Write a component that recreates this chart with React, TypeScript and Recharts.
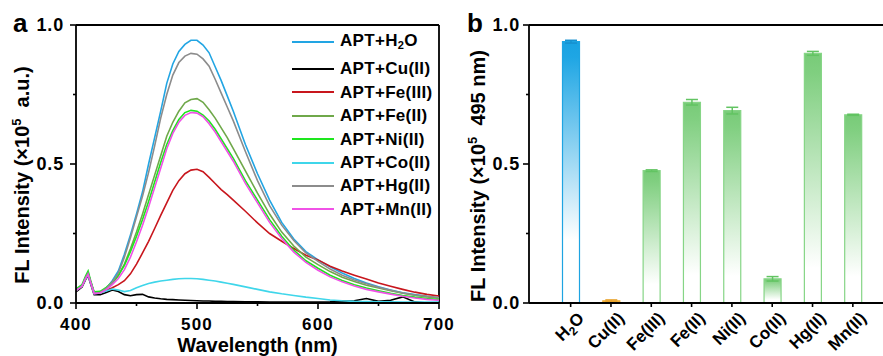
import React from 'react';
import {
  LineChart,
  Line,
  XAxis,
  YAxis,
  Legend,
  ReferenceLine,
  BarChart,
  Bar,
  Cell,
  ErrorBar,
} from 'recharts';

const FONT = '"Liberation Sans", Arial, Helvetica, sans-serif';

// ---------- Panel a: emission spectra ----------
const wavelengths = [
  400, 405, 408, 410, 412, 415, 420, 425, 430, 435, 440, 445, 450, 455, 460, 465, 470, 475, 480, 485,
  490, 495, 500, 505, 510, 515, 520, 525, 530, 540, 550, 560, 570, 580, 590, 600, 610, 620, 630, 640,
  650, 660, 670, 680, 690, 700,
];

const h2oSeries = [
  0.045, 0.062, 0.092, 0.108, 0.078, 0.035, 0.038, 0.052, 0.08, 0.115, 0.175, 0.245, 0.32, 0.4, 0.5, 0.595, 0.69, 0.79, 0.86, 0.905,
  0.93, 0.945, 0.945, 0.928, 0.9, 0.85, 0.8, 0.745, 0.69, 0.57, 0.465, 0.37, 0.29, 0.23, 0.185, 0.155, 0.13, 0.108, 0.088, 0.072,
  0.058, 0.047, 0.037, 0.03, 0.024, 0.019,
];
const cuSeries = [
  0.04, 0.058, 0.085, 0.098, 0.07, 0.03, 0.03, 0.038, 0.047, 0.041, 0.03, 0.026, 0.03, 0.031, 0.022, 0.018, 0.015, 0.013, 0.012, 0.011,
  0.01, 0.009, 0.008, 0.007, 0.007, 0.006, 0.006, 0.005, 0.005, 0.004, 0.004, 0.003, 0.003, 0.003, 0.003, 0.003, 0.004, 0.006, 0.008, 0.016,
  0.006, 0.01, 0.022, 0.004, 0.0, 0.0,
];
const fe3Series = [
  0.045, 0.06, 0.09, 0.105, 0.076, 0.035, 0.037, 0.045, 0.055, 0.066, 0.08, 0.105, 0.14, 0.18, 0.222, 0.268, 0.315, 0.36, 0.405, 0.44,
  0.465, 0.478, 0.481, 0.472, 0.452, 0.43, 0.408, 0.39, 0.37, 0.33, 0.288, 0.25, 0.222, 0.196, 0.172, 0.155, 0.132, 0.115, 0.1, 0.086,
  0.072, 0.06, 0.049, 0.039, 0.031, 0.025,
];
const fe2Series = [
  0.045, 0.062, 0.092, 0.108, 0.078, 0.035, 0.038, 0.05, 0.07, 0.098, 0.14, 0.195, 0.255, 0.32, 0.39, 0.46, 0.53, 0.6, 0.65, 0.69,
  0.72, 0.732, 0.735, 0.722, 0.695, 0.665, 0.63, 0.595, 0.555, 0.475, 0.395, 0.32, 0.255, 0.205, 0.165, 0.138, 0.113, 0.093, 0.077, 0.064,
  0.054, 0.044, 0.035, 0.028, 0.022, 0.017,
];
const niSeries = [
  0.05, 0.066, 0.098, 0.115, 0.082, 0.04, 0.042, 0.056, 0.075, 0.1, 0.135, 0.185, 0.24, 0.3, 0.365, 0.435, 0.505, 0.57, 0.62, 0.66,
  0.685, 0.693, 0.69, 0.676, 0.655, 0.625, 0.59, 0.555, 0.52, 0.44, 0.37, 0.3, 0.24, 0.19, 0.152, 0.125, 0.1, 0.081, 0.066, 0.054,
  0.044, 0.035, 0.027, 0.021, 0.016, 0.012,
];
const coSeries = [
  0.045, 0.06, 0.088, 0.1, 0.074, 0.034, 0.036, 0.043, 0.05, 0.047, 0.041, 0.045, 0.055, 0.063, 0.07, 0.075, 0.079, 0.082, 0.085, 0.087,
  0.088, 0.088, 0.087, 0.085, 0.082, 0.079, 0.075, 0.071, 0.067, 0.058, 0.049, 0.04, 0.033, 0.027, 0.021, 0.016, 0.011, 0.008, 0.006, 0.005,
  0.004, 0.004, 0.003, 0.003, 0.003, 0.003,
];
const hgSeries = [
  0.045, 0.062, 0.092, 0.108, 0.078, 0.035, 0.038, 0.052, 0.075, 0.108, 0.165, 0.235, 0.31, 0.385, 0.47, 0.565, 0.665, 0.75, 0.82, 0.865,
  0.888, 0.898, 0.895, 0.878, 0.852, 0.805, 0.755, 0.705, 0.655, 0.545, 0.44, 0.35, 0.28, 0.225, 0.18, 0.15, 0.122, 0.1, 0.083, 0.069,
  0.057, 0.046, 0.036, 0.029, 0.024, 0.02,
];
const mnSeries = [
  0.045, 0.06, 0.088, 0.102, 0.075, 0.034, 0.036, 0.048, 0.066, 0.088, 0.12, 0.165, 0.22, 0.28, 0.345, 0.415, 0.485, 0.555, 0.61, 0.65,
  0.675, 0.685, 0.683, 0.67, 0.645, 0.615, 0.58, 0.545, 0.51, 0.43, 0.36, 0.29, 0.232, 0.183, 0.146, 0.118, 0.094, 0.076, 0.061, 0.049,
  0.04, 0.032, 0.024, 0.018, 0.013, 0.01,
];

const seriesNames = ['APT+H2O', 'APT+Cu(II)', 'APT+Fe(III)', 'APT+Fe(II)', 'APT+Ni(II)', 'APT+Co(II)', 'APT+Hg(II)', 'APT+Mn(II)'];
const seriesKeys = ['h2o', 'cu', 'fe3', 'fe2', 'ni', 'co', 'hg', 'mn'];
const seriesColors = ['#22a5e3', '#000000', '#c8161d', '#6fa84a', '#1ee61e', '#3fd6ea', '#8c8c8c', '#f052e6'];
const seriesValues = [h2oSeries, cuSeries, fe3Series, fe2Series, niSeries, coSeries, hgSeries, mnSeries];

const xTicksA = [400, 450, 500, 550, 600, 650, 700];
const xLabelsA = [400, 500, 600, 700];
const yTicks = [0, 0.25, 0.5, 0.75, 1];
const yLabels = [0, 0.5, 1];

const spectraRows = wavelengths.map((w, i) => {
  const row: Record<string, number> = { wl: w };
  seriesKeys.forEach((k, j) => {
    row[k] = seriesValues[j][i];
  });
  return row;
});

// ---------- Panel b: bar chart ----------
const barCategories = ['H2O', 'Cu(II)', 'Fe(III)', 'Fe(II)', 'Ni(II)', 'Co(II)', 'Hg(II)', 'Mn(II)'];
const barValues = [0.94, 0.008, 0.476, 0.722, 0.692, 0.087, 0.898, 0.677];
const barErrors = [0.005, 0.003, 0.003, 0.01, 0.012, 0.008, 0.007, 0.002];
const barGroups = ['blue', 'orange', 'green', 'green', 'green', 'green', 'green', 'green'];

const groupFill: Record<string, string> = { blue: 'url(#gradBlue)', orange: '#f2b543', green: 'url(#gradGreen)' };
const groupStroke: Record<string, string> = { blue: '#1ea4e2', orange: '#eeac33', green: '#86d586' };
const groupErr: Record<string, string> = { blue: '#1791cf', orange: '#e8a22a', green: '#62c462' };

const barRows = barCategories.map((c, i) => ({
  name: c,
  value: barValues[i],
  errBlue: barGroups[i] === 'blue' ? barErrors[i] : null,
  errOrange: barGroups[i] === 'orange' ? barErrors[i] : null,
  errGreen: barGroups[i] === 'green' ? barErrors[i] : null,
}));

// ---------- helpers ----------
const isMajor = (v: number, list: number[]) => list.some((m) => Math.abs(m - v) < 1e-9);

const makeYTick = (gap: number) => (props: any) => {
  const { x, y, payload } = props;
  const v = payload.value as number;
  const major = isMajor(v, yLabels);
  return (
    <g>
      <line x1={x} x2={x - (major ? 6 : 3)} y1={y} y2={y} stroke="#000" strokeWidth={1.6} />
      {major && (
        <text
          x={x - gap}
          y={y}
          dy="0.36em"
          textAnchor="end"
          fontFamily={FONT}
          fontWeight={700}
          fontSize={18}
          letterSpacing={0.8}
          fill="#000"
        >
          {v.toFixed(1)}
        </text>
      )}
    </g>
  );
};

const XTickA = (props: any) => {
  const { x, y, payload } = props;
  const v = payload.value as number;
  const major = isMajor(v, xLabelsA);
  return (
    <g>
      <line x1={x} x2={x} y1={y} y2={y + (major ? 6 : 3)} stroke="#000" strokeWidth={1.6} />
      {major && (
        <text
          x={x}
          y={y + 27}
          textAnchor="middle"
          fontFamily={FONT}
          fontWeight={700}
          fontSize={17}
          letterSpacing={1.2}
          fill="#000"
        >
          {v}
        </text>
      )}
    </g>
  );
};

const XTickB = (props: any) => {
  const { x, y, payload } = props;
  const v = payload.value as string;
  const content =
    v === 'H2O' ? (
      <>
        H<tspan dy={4} fontSize={12}>2</tspan>
        <tspan dy={-4}>O</tspan>
      </>
    ) : (
      v
    );
  return (
    <g>
      <line x1={x} x2={x} y1={y} y2={y + 4} stroke="#000" strokeWidth={1.6} />
      <g transform={`translate(${x + 10},${y + 12}) rotate(-45)`}>
        <text x={0} y={0} dy="0.36em" textAnchor="end" fontFamily={FONT} fontWeight={700} fontSize={17} fill="#000">
          {content}
        </text>
      </g>
    </g>
  );
};

const legendName = (name: string) =>
  name === 'APT+H2O' ? (
    <>
      APT+H<span style={{ fontSize: '0.65em', position: 'relative', top: '0.3em' }}>2</span>O
    </>
  ) : (
    name
  );

const renderLegend = (props: any) => {
  const payload = [...(props.payload || [])].sort(
    (a: any, b: any) => seriesNames.indexOf(a.value) - seriesNames.indexOf(b.value),
  );
  return (
    <div style={{ fontFamily: FONT, fontWeight: 700, fontSize: 17, letterSpacing: 0.3, color: '#000' }}>
      {payload.map((entry: any, i: number) => (
        <div
          key={i}
          style={{ display: 'flex', alignItems: 'center', height: 23.4, marginBottom: i === 0 ? 4 : 0 }}
        >
          <svg width={42} height={4} style={{ display: 'block' }}>
            <line x1={0} x2={42} y1={2} y2={2} stroke={entry.color} strokeWidth={2} />
          </svg>
          <span style={{ marginLeft: 6, whiteSpace: 'nowrap', lineHeight: '23.4px' }}>{legendName(entry.value)}</span>
        </div>
      ))}
    </div>
  );
};

const AXIS = { stroke: '#000', strokeWidth: 1.8 };

export default function App() {
  return (
    <div
      style={{
        position: 'absolute',
        left: 0,
        top: 0,
        width: 883,
        height: 356,
        background: '#fff',
        overflow: 'hidden',
        fontFamily: FONT,
      }}
    >
      <div style={{ position: 'absolute', left: 0, top: 0 }}>
        <LineChart width={460} height={356} data={spectraRows} margin={{ top: 25, right: 21, bottom: 0, left: 0 }}>
          <XAxis
            dataKey="wl"
            type="number"
            domain={[400, 700]}
            ticks={xTicksA}
            interval={0}
            height={53}
            tickSize={0}
            tickMargin={0}
            tickLine={false}
            axisLine={AXIS}
            tick={XTickA}
            allowDataOverflow
          />
          <YAxis
            type="number"
            domain={[0, 1]}
            ticks={yTicks}
            interval={0}
            width={76}
            tickSize={0}
            tickMargin={0}
            tickLine={false}
            axisLine={AXIS}
            tick={makeYTick(12)}
            allowDataOverflow
          />
          <ReferenceLine y={1} stroke="#000" strokeWidth={1.8} />
          <ReferenceLine x={700} stroke="#000" strokeWidth={1.8} />
          {seriesKeys.map((k, j) => (
            <Line
              key={k}
              dataKey={k}
              name={seriesNames[j]}
              stroke={seriesColors[j]}
              strokeWidth={1.6}
              dot={false}
              type="linear"
              isAnimationActive={false}
            />
          ))}
          <Legend
            layout="vertical"
            align="center"
            verticalAlign="middle"
            itemSorter={null as any}
            wrapperStyle={{ left: 292, top: 30, width: 'auto' }}
            content={renderLegend}
          />
          <text x={13} y={32} fontFamily={FONT} fontWeight={700} fontSize={26} fill="#000">
            a
          </text>
          <text
            x={257.5}
            y={352}
            textAnchor="middle"
            fontFamily={FONT}
            fontWeight={700}
            fontSize={20}
            fill="#000"
          >
            Wavelength (nm)
          </text>
          <text
            transform="translate(22,175) rotate(-90)"
            textAnchor="middle"
            dy="0.35em"
            fontFamily={FONT}
            fontWeight={700}
            fontSize={20}
            fill="#000"
          >
            FL Intensity (×10
            <tspan dy={-8} fontSize={13}>
              5
            </tspan>
            <tspan dy={8}>{'\u00a0\u00a0a.u.)'}</tspan>
          </text>
        </LineChart>
      </div>

      <div style={{ position: 'absolute', left: 450, top: 0 }}>
        <BarChart width={433} height={356} data={barRows} margin={{ top: 25, right: 0, bottom: 0, left: 0 }}>
          <defs>
            <linearGradient id="gradBlue" x1="0" y1="0" x2="0" y2="1">
              <stop offset="0" stopColor="#19a2e2" />
              <stop offset="0.06" stopColor="#1fa6e4" />
              <stop offset="0.76" stopColor="#ffffff" />
              <stop offset="1" stopColor="#ffffff" />
            </linearGradient>
            <linearGradient id="gradGreen" x1="0" y1="0" x2="0" y2="1">
              <stop offset="0" stopColor="#78cb78" />
              <stop offset="0.08" stopColor="#80cf80" />
              <stop offset="0.86" stopColor="#ffffff" />
              <stop offset="1" stopColor="#ffffff" />
            </linearGradient>
          </defs>
          <XAxis
            dataKey="name"
            type="category"
            height={53}
            padding={{ left: 21.5, right: 10 }}
            interval={0}
            tickSize={0}
            tickMargin={0}
            tickLine={false}
            axisLine={AXIS}
            tick={XTickB}
          />
          <YAxis
            type="number"
            domain={[0, 1]}
            ticks={yTicks}
            interval={0}
            width={79}
            tickSize={0}
            tickMargin={0}
            tickLine={false}
            axisLine={AXIS}
            tick={makeYTick(9)}
            allowDataOverflow
          />
          <ReferenceLine y={1} stroke="#000" strokeWidth={1.8} />
          <Bar dataKey="value" barSize={17} isAnimationActive={false} strokeWidth={1.2}>
            {barRows.map((r, i) => (
              <Cell key={r.name} fill={groupFill[barGroups[i]]} stroke={groupStroke[barGroups[i]]} />
            ))}
            <ErrorBar dataKey="errBlue" width={6} stroke={groupErr.blue} strokeWidth={1.5} isAnimationActive={false} />
            <ErrorBar dataKey="errOrange" width={6} stroke={groupErr.orange} strokeWidth={1.5} isAnimationActive={false} />
            <ErrorBar dataKey="errGreen" width={6} stroke={groupErr.green} strokeWidth={1.5} isAnimationActive={false} />
          </Bar>
          <text x={17} y={32} fontFamily={FONT} fontWeight={700} fontSize={26} fill="#000">
            b
          </text>
          <text
            transform="translate(28,176) rotate(-90)"
            textAnchor="middle"
            dy="0.35em"
            fontFamily={FONT}
            fontWeight={700}
            fontSize={20}
            fill="#000"
          >
            FL Intensity (×10
            <tspan dy={-8} fontSize={13}>
              5
            </tspan>
            <tspan dy={8}>{'\u00a0\u00a0495 nm)'}</tspan>
          </text>
        </BarChart>
      </div>
    </div>
  );
}
